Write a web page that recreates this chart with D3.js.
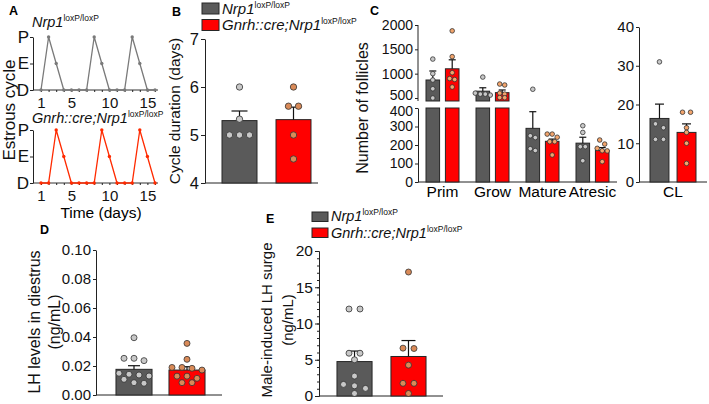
<!DOCTYPE html>
<html><head><meta charset="utf-8">
<script src="https://cdn.jsdelivr.net/npm/d3@7/dist/d3.min.js"></script>
<style>
body{margin:0;background:#fff}
svg{font-family:"Liberation Sans",Arial,Helvetica,sans-serif;display:block}
</style></head>
<body><svg id="c" width="709" height="404"></svg>
<script>
// ---------------- DATA ----------------
const groupNames = ["Nrp1", "Gnrh::cre;Nrp1"];
const groupSup = "loxP/loxP";
// Panel A: estrous cycle stage per day
const days = [1,2,3,4,5,6,7,8,9,10,11,12,13,14,15,16];
const dayTickLabels = [1,5,10,15];
const cycleStages = ["D","E","P"];
const ctrlCycle = ["D","P","E","D","D","D","D","P","E","D","D","D","P","E","D","D"];
const creCycle  = ["D","D","P","E","D","D","D","D","P","E","D","D","D","P","E","D"];
// Panel B: cycle duration (days)
const bTicks = [4,5,6,7];
const durMean = [5.3, 5.32];
const durSem = [0.2, 0.26];
const durCtrl = [6.0, 5.33, 5.0, 5.0, 5.0];
const durCre = [6.0, 5.6, 5.6, 5.0, 4.5];
// Panel C: follicle counts
const follCats = ["Prim","Grow","Mature","Atresic"];
const cLowTicks = [0,100,200,300,400];
const cHighTicks = [500,1000,1500,2000];
const follMeanCtrl = [870, 640, 290, 210];
const follSemCtrl = [185, 70, 90, 32];
const follMeanCre = [1100, 610, 220, 170];
const follSemCre = [185, 55, 12, 16];
const follPtsCtrl = [[1300,1000,870,690,500],[930,600,580,560,580],[680,250,240,170,180],[304,268,191,191,115]];
const follPtsCre = [[1880,1350,1020,900,880,726],[787,767,580,506,600,510],[259,259,242,218,218,146],[227,205,182,169,168,110]];
const clTicks = [0,10,20,30,40];
const clMean = [16.4, 12.8];
const clSem = [3.7, 2.2];
const clCtrl = [31, 15, 14, 11, 11];
const clCre = [18, 18, 14, 12.8, 10, 4.8];
// Panel D: LH in diestrus (ng/mL)
const dTicks = [0,0.02,0.04,0.06,0.08,0.10];
const lhMean = [0.0177, 0.0172];
const lhSem = [0.0025, 0.0023];
const lhCtrl = [0.0395,0.0253,0.0253,0.0237,0.0131,0.0143,0.0138,0.015,0.0108,0.0081,0.0085];
const lhCre = [0.0356,0.0246,0.0184,0.019,0.019,0.0172,0.013,0.013,0.0115,0.0085,0.0085];
// Panel E: male-induced LH surge (ng/mL)
const eTicks = [0,5,10,15,20];
const surgeMean = [4.75, 5.45];
const surgeSem = [1.45, 2.2];
const surgeCtrl = [12,12,5.9,5.9,5.0,2.75,1.6,1.4,1.05,0.35];
const surgeCre = [17.1,6.55,6.6,4.26,1.75,1.75,0.35];

// ---------------- STYLE ----------------
const GRAY = "#5a5a5a", RED = "#ff0000", EDGE = "#262626";
const DOT_G = "#c8c8c8", DOT_R = "#d98a58", DOT_RC = "#f2a46c";
const fmtInt = d3.format("d");
const svg = d3.select("#c");
svg.append("rect").attr("width",709).attr("height",404).attr("fill","#fff");

function styleAxis(g, size){
  g.selectAll("path.domain").attr("stroke","#222").attr("stroke-width",1);
  g.selectAll(".tick line").attr("stroke","#222").attr("stroke-width",1);
  g.selectAll(".tick text").attr("fill","#111").attr("font-size",size).attr("font-family",null);
  g.attr("font-family",null);
}
function panelLetter(t,x,y){
  svg.append("text").attr("x",x).attr("y",y).attr("font-weight","bold").attr("font-size",12.5).text(t);
}
function supText(g,x,y,main,sup,size,supSize,anchor){
  const t = g.append("text").attr("x",x).attr("y",y).attr("font-size",size).attr("fill","#111");
  if(anchor) t.attr("text-anchor",anchor);
  t.append("tspan").attr("font-style","italic").text(main);
  t.append("tspan").attr("dy",-size*0.38).attr("font-size",supSize).text(sup);
  return t;
}
function rotLabel(x,y,lines,size,gap){
  const t = svg.append("text").attr("transform",`translate(${x},${y}) rotate(-90)`)
    .attr("text-anchor","middle").attr("font-size",size).attr("fill","#111");
  lines.forEach((l,i)=>t.append("tspan").attr("x",0).attr("dy", i===0?0:gap).text(l));
}
function swarm(vals, yfn, r, step){
  const pts = vals.map(v=>({v, y:yfn(v)})).sort((a,b)=>a.y-b.y);
  const rows=[];
  pts.forEach(p=>{const last=rows[rows.length-1];
    if(last && p.y-last[0].y < 2*r*0.95) last.push(p); else rows.push([p]);});
  rows.forEach(row=>row.forEach((p,i)=>p.dx=(i-(row.length-1)/2)*step));
  return pts;
}
function dots(g, vals, cx, yfn, r, step, fill){
  g.selectAll(null).data(swarm(vals,yfn,r,step)).join("circle")
    .attr("cx",d=>cx+d.dx).attr("cy",d=>d.y).attr("r",r)
    .attr("fill",fill).attr("stroke","#333").attr("stroke-width",0.8);
}
function errBar(g, cx, y0, y1, cap){
  g.append("line").attr("x1",cx).attr("x2",cx).attr("y1",y0).attr("y2",y1).attr("stroke","#111").attr("stroke-width",1.2);
  g.append("line").attr("x1",cx-cap/2).attr("x2",cx+cap/2).attr("y1",y1).attr("y2",y1).attr("stroke","#111").attr("stroke-width",1.2);
}
function simpleBars(g, x, y, means, sems, ptsArr, dotFills, r, step, cap){
  groupNames.forEach((n,i)=>{
    const x0=x(n), bw=x.bandwidth(), cx=x0+bw/2;
    g.append("rect").attr("x",x0).attr("y",y(means[i])).attr("width",bw)
      .attr("height",y(y.domain()[0])-y(means[i]))
      .attr("fill",i===0?GRAY:RED).attr("stroke",EDGE).attr("stroke-width",1);
    errBar(g,cx,y(means[i]),y(means[i]+sems[i]),cap);
    dots(g,ptsArr[i],cx,y,r,step,dotFills[i]);
  });
}

// ---------------- PANEL A ----------------
panelLetter("A",9,15);
const gA = svg.append("g");
const xA = d3.scaleLinear().domain([1,16]).range([41,155]);
function cyclePanel(states, yD, yP, color){
  const y = d3.scalePoint().domain(cycleStages).range([yD,yP]);
  gA.append("line").attr("x1",33).attr("x2",158).attr("y1",yD).attr("y2",yD).attr("stroke","#333").attr("stroke-width",1);
  const ya = gA.append("g").attr("transform","translate(33,0)")
    .call(d3.axisLeft(y).tickSize(3).tickSizeOuter(0).tickPadding(1));
  styleAxis(ya,17);
  const xa = gA.append("g").attr("transform",`translate(0,${yD})`)
    .call(d3.axisBottom(xA).tickValues(days).tickSize(2).tickPadding(5)
      .tickFormat(d=>dayTickLabels.includes(d)?d:""));
  styleAxis(xa,15);
  xa.select("path.domain").remove();
  const line = d3.line().x((d,i)=>xA(days[i])).y(d=>y(d));
  gA.append("path").attr("d",line(states)).attr("fill","none").attr("stroke",color).attr("stroke-width",1.3);
  gA.selectAll(null).data(states).join("circle").attr("cx",(d,i)=>xA(days[i])).attr("cy",d=>y(d))
    .attr("r",1.7).attr("fill",color);
}
supText(gA,32,27,groupNames[0],groupSup,14.5,8.5);
cyclePanel(ctrlCycle, 90, 37, "#7a7a7a");
supText(gA,32,123,groupNames[1],groupSup,14.5,8.5);
cyclePanel(creCycle, 183, 130, "#ff2a00");
svg.append("text").attr("x",101).attr("y",218).attr("text-anchor","middle").attr("font-size",15.5).text("Time (days)");
rotLabel(15,110,["Estrous cycle"],17,0);

// ---------------- PANEL B ----------------
panelLetter("B",172,16);
const gB = svg.append("g");
const legB = [[groupNames[0],GRAY,3,13.5],[groupNames[1],RED,19.5,30]];
legB.forEach(([n,c,ry,ty])=>{
  gB.append("rect").attr("x",202).attr("y",ry).attr("width",17).attr("height",11).attr("fill",c).attr("stroke",EDGE);
  supText(gB,222,ty,n,groupSup,15,8.5);
});
const yB = d3.scaleLinear().domain([4,7]).range([183,39]);
const xB = d3.scaleBand().domain(groupNames).range([205.8,327.2]).paddingInner(0.352).paddingOuter(0.3);
gB.append("line").attr("x1",205).attr("x2",318).attr("y1",183).attr("y2",183).attr("stroke","#222");
const ayB = gB.append("g").attr("transform","translate(205,0)").call(d3.axisLeft(yB).tickValues(bTicks).tickFormat(fmtInt).tickSize(4).tickSizeOuter(0).tickPadding(2));
styleAxis(ayB,16.5);
simpleBars(gB,xB,yB,durMean,durSem,[durCtrl,durCre],[DOT_G,DOT_R],3.2,10,16);
rotLabel(180,111,["Cycle duration (days)"],15.5,0);

// ---------------- PANEL C ----------------
panelLetter("C",370,15);
const gC = svg.append("g");
const yLow = d3.scaleLinear().domain([0,400]).range([182,108]);
const yHigh = d3.scaleLinear().domain([500,2000]).range([98,25]);
const yC = v => v<=400 ? yLow(v) : (v>=500 ? yHigh(v) : yLow(400) - (v-400)/100*(yLow(400)-yHigh(500)));
const xC = d3.scaleBand().domain(follCats).range([418,617]).paddingInner(0.34).paddingOuter(0.16);
const xSub = d3.scaleBand().domain(groupNames).range([0,xC.bandwidth()]).paddingInner(0.3);
gC.append("line").attr("x1",418).attr("x2",617).attr("y1",182).attr("y2",182).attr("stroke","#222");
const ayLow = gC.append("g").attr("transform","translate(418,0)").call(d3.axisLeft(yLow).tickValues(cLowTicks).tickFormat(fmtInt).tickSize(3).tickSizeOuter(0).tickPadding(2));
styleAxis(ayLow,14);
const ayHigh = gC.append("g").attr("transform","translate(418,0)").call(d3.axisLeft(yHigh).tickValues(cHighTicks).tickFormat(fmtInt).tickSize(3).tickSizeOuter(0).tickPadding(2));
styleAxis(ayHigh,14);
ayHigh.select("path.domain").attr("d","M0,101V25");
ayLow.selectAll(".tick text").attr("dy",d=>d===400?"0.5em":"0.32em");
ayHigh.selectAll(".tick text").attr("dy",d=>d===500?"0.12em":"0.32em");
function brokenBar(x0,bw,v,fill){
  if(v<=400){
    gC.append("rect").attr("x",x0).attr("y",yLow(v)).attr("width",bw).attr("height",yLow(0)-yLow(v)).attr("fill",fill).attr("stroke",EDGE);
  } else {
    gC.append("rect").attr("x",x0).attr("y",yLow(400)).attr("width",bw).attr("height",yLow(0)-yLow(400)).attr("fill",fill).attr("stroke",EDGE);
    gC.append("rect").attr("x",x0).attr("y",yHigh(v)).attr("width",bw).attr("height",101-yHigh(v)).attr("fill",fill).attr("stroke",EDGE);
  }
}
follCats.forEach((c,ci)=>{
  [[follMeanCtrl,follSemCtrl,follPtsCtrl,GRAY,DOT_G],[follMeanCre,follSemCre,follPtsCre,RED,DOT_RC]].forEach(([m,s,p,fill,df],gi)=>{
    const x0 = xC(c)+xSub(groupNames[gi]), bw = xSub.bandwidth(), cx = x0+bw/2;
    brokenBar(x0,bw,m[ci],fill);
    errBar(gC,cx,yC(m[ci]),yC(m[ci]+s[ci]),7);
    dots(gC,p[ci],cx,yC,2.3,5,df);
  });
  gC.append("text").attr("x",xC(c)+xC.bandwidth()/2).attr("y",197).attr("text-anchor","middle").attr("font-size",15.5).text(c);
});
rotLabel(368,108,["Number of follicles"],16,0);
// CL sub-panel
const yCL = d3.scaleLinear().domain([0,40]).range([182,27]);
const xCL = d3.scaleBand().domain(groupNames).range([650,696]).paddingInner(0.3);
gC.append("line").attr("x1",639).attr("x2",707).attr("y1",182).attr("y2",182).attr("stroke","#222");
const ayCL = gC.append("g").attr("transform","translate(639,0)").call(d3.axisLeft(yCL).tickValues(clTicks).tickFormat(fmtInt).tickSize(3).tickSizeOuter(0).tickPadding(2));
styleAxis(ayCL,15);
simpleBars(gC,xCL,yCL,clMean,clSem,[clCtrl,clCre],[DOT_G,DOT_RC],2.3,8,9);
gC.append("text").attr("x",673).attr("y",197).attr("text-anchor","middle").attr("font-size",15.5).text("CL");

// ---------------- PANEL D ----------------
panelLetter("D",40,234);
const gD = svg.append("g");
const yD = d3.scaleLinear().domain([0,0.10]).range([395,250]);
const xD = d3.scaleBand().domain(groupNames).range([96,225]).paddingInner(0.32).paddingOuter(0.377);
gD.append("line").attr("x1",96).attr("x2",222).attr("y1",395).attr("y2",395).attr("stroke","#222");
const ayD = gD.append("g").attr("transform","translate(96,0)").call(d3.axisLeft(yD).tickValues(dTicks).tickSize(3).tickSizeOuter(0).tickPadding(2).tickFormat(d3.format(".2f")));
styleAxis(ayD,15);
simpleBars(gD,xD,yD,lhMean,lhSem,[lhCtrl,lhCre],[DOT_G,DOT_R],3,10,12);
rotLabel(40,322,["LH levels in diestrus","(ng/mL)"],16,20);

// ---------------- PANEL E ----------------
panelLetter("E",266,223);
const gE = svg.append("g");
[[groupNames[0],GRAY,212,221],[groupNames[1],RED,228,237.5]].forEach(([n,c,ry,ty])=>{
  gE.append("rect").attr("x",312).attr("y",ry).attr("width",16).attr("height",9.5).attr("fill",c).attr("stroke",EDGE);
  supText(gE,331,ty,n,groupSup,14.5,8.5);
});
const yE = d3.scaleLinear().domain([0,20]).range([396,251]);
const xE = d3.scaleBand().domain(groupNames).range([319,444]).paddingInner(0.35).paddingOuter(0.333);
gE.append("line").attr("x1",319).attr("x2",443).attr("y1",396).attr("y2",396).attr("stroke","#222");
const ayEm = gE.append("g").attr("transform","translate(319,0)").call(d3.axisLeft(yE).ticks(20).tickSize(2).tickSizeOuter(0).tickFormat(""));
styleAxis(ayEm,1);
const ayE = gE.append("g").attr("transform","translate(319,0)").call(d3.axisLeft(yE).tickValues(eTicks).tickFormat(fmtInt).tickSize(4).tickSizeOuter(0).tickPadding(2));
styleAxis(ayE,15.5);
simpleBars(gE,xE,yE,surgeMean,surgeSem,[surgeCtrl,surgeCre],[DOT_G,DOT_R],3,11,14);
rotLabel(272,320,["Male-induced LH surge","(ng/mL)"],15,21);
</script></body></html>
